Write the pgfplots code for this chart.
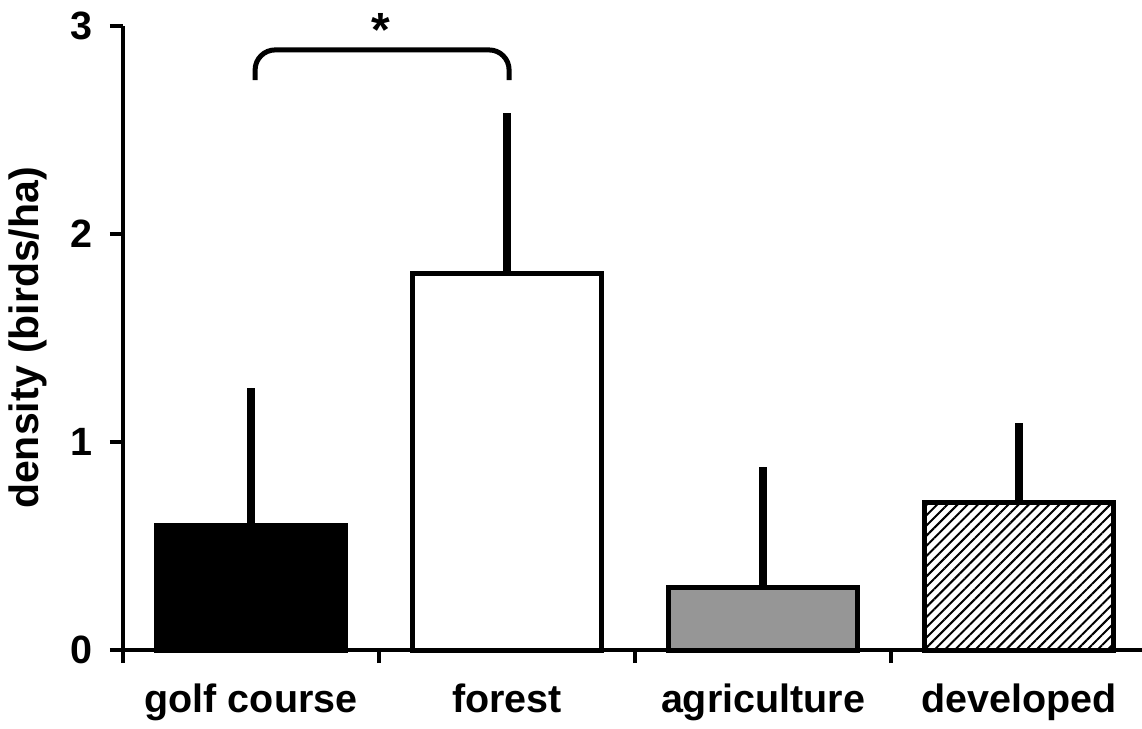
\documentclass[border=0pt]{standalone}
\usepackage{pgfplots}
\pgfplotsset{compat=1.18}
\usepackage{fontspec}
\setmainfont{Liberation Sans}
\usetikzlibrary{patterns.meta}
\definecolor{agri}{RGB}{150,150,150}
\begin{document}
\fontsize{19.75pt}{24pt}\selectfont\bfseries
\begin{tikzpicture}
\begin{axis}[
  scale only axis,
  width=509.5pt, height=312pt,
  xmin=0, xmax=3.98, ymin=0, ymax=3,
  axis x line=bottom, axis y line=left,
  axis line style={-, line width=2.4pt},
  every tick/.style={black, line width=2.4pt},
  tick align=outside,
  major tick length=6.5pt,
  xtick={0,1,2,3}, xticklabels={},
  extra x ticks={0.5,1.5,2.5,3.5},
  extra x tick labels={golf course,forest,agriculture,developed},
  extra x tick style={major tick length=0pt, tick label style={yshift=-10pt}},
  ytick={0,1,2,3},
  /pgf/number format/assume math mode=true,
  ticklabel style={font=\fontsize{19.75pt}{24pt}\selectfont\bfseries},
  yticklabel style={xshift=-2pt},
  ylabel={density (birds/ha)},
  ylabel style={at={(axis description cs:-0.093,0.5)}, anchor=center, font=\fontsize{20.5pt}{24pt}\selectfont\bfseries},
  ybar, bar shift=0pt, bar width=0.74,
  clip=false,
  error bars/y dir=plus, error bars/y explicit,
  error bars/error mark=none,
  error bars/error bar style={line width=4pt, black},
]
\addplot[fill=black, draw=black, line width=2.5pt, bar shift=0pt] coordinates {(0.5,0.60) +- (0,0.66)};
\addplot[fill=white, draw=black, line width=2.5pt, bar shift=0pt] coordinates {(1.5,1.81) +- (0,0.77)};
\addplot[fill=agri, draw=black, line width=2.5pt, bar shift=0pt] coordinates {(2.5,0.30) +- (0,0.58)};
\addplot[pattern={Lines[angle=45,distance=3.6pt,line width=1pt]}, draw=black, line width=2.5pt, bar shift=0pt] coordinates {(3.5,0.71) +- (0,0.38)};
\draw[line width=2.5pt, rounded corners=10pt] (axis cs:0.516,2.74) -- (axis cs:0.516,2.885) -- (axis cs:1.508,2.885) -- (axis cs:1.508,2.74);
\node[anchor=base, inner sep=0pt, font=\fontsize{24pt}{24pt}\selectfont\bfseries] at (axis cs:1.006,2.90) {*};
\end{axis}
\pgfresetboundingbox
\path[use as bounding box] (-61.5pt,-39.5pt) rectangle (509.5pt,325pt);
\end{tikzpicture}
\end{document}
